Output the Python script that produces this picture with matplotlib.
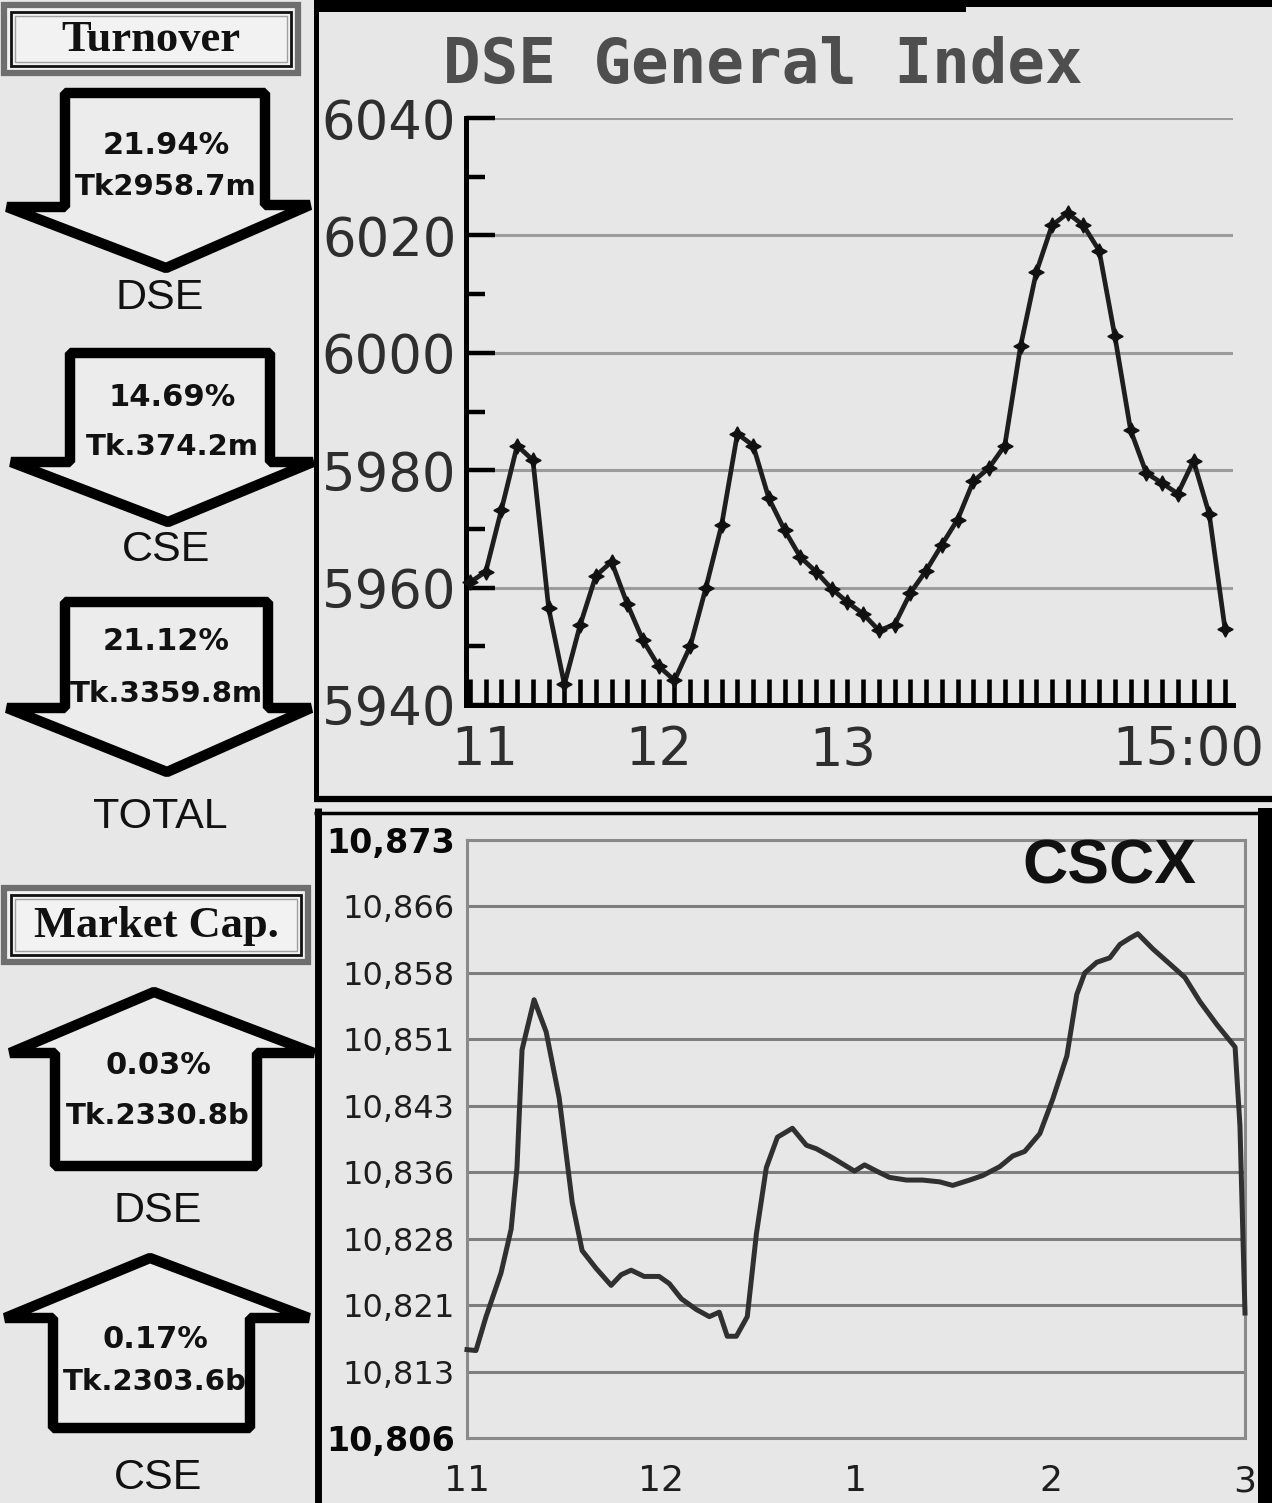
import numpy as np
import matplotlib
matplotlib.use("Agg")
import matplotlib.pyplot as plt
from matplotlib.patches import Polygon, Rectangle
from matplotlib.ticker import FixedLocator
from matplotlib.transforms import ScaledTranslation

W, H = 1272, 1503
BG = '#e7e7e7'

# ---------------- data ----------------
turnover_labels = ["DSE", "CSE", "TOTAL"]
turnover_pct = ["21.94%", "14.69%", "21.12%"]
turnover_amt = ["Tk2958.7m", "Tk.374.2m", "Tk.3359.8m"]

mcap_labels = ["DSE", "CSE"]
mcap_pct = ["0.03%", "0.17%"]
mcap_amt = ["Tk.2330.8b", "Tk.2303.6b"]

# DSE General Index, one reading every 5 minutes from 11:00 to 15:00
dse_minutes = np.arange(0, 241, 5)
dse_values = [5960.9, 5962.7, 5973.3, 5984.2, 5981.7, 5956.5, 5943.5, 5953.6,
              5962.0, 5964.4, 5957.2, 5951.0, 5946.6, 5944.2, 5950.0, 5960.0,
              5970.7, 5986.2, 5984.2, 5975.2, 5969.8, 5965.2, 5962.7, 5959.8,
              5957.5, 5955.5, 5952.7, 5953.7, 5959.1, 5962.9, 5967.3, 5971.6,
              5978.1, 5980.4, 5984.2, 6001.1, 6013.7, 6021.7, 6023.8, 6021.7,
              6017.4, 6002.8, 5986.8, 5979.5, 5977.8, 5976.0, 5981.6, 5972.5,
              5953.0]
dse_tick_pos = [0, 60, 120, 240]
dse_tick_labels = ["11", "12", "13", "15:00"]
dse_yticks = [5940, 5960, 5980, 6000, 6020, 6040]
dse_yminor = [5950, 5970, 5990, 6010, 6030]

# CSCX (hours of the day)
cscx_hours = [11.00, 11.046, 11.098, 11.175, 11.227, 11.257, 11.283, 11.345,
              11.407, 11.474, 11.541, 11.592, 11.664, 11.741, 11.793, 11.844,
              11.911, 11.988, 12.040, 12.102, 12.179, 12.246, 12.297, 12.338,
              12.385, 12.441, 12.488, 12.539, 12.596, 12.673, 12.745, 12.797,
              12.879, 12.992, 13.044, 13.106, 13.172, 13.260, 13.342, 13.430,
              13.497, 13.584, 13.651, 13.739, 13.806, 13.867, 13.945, 14.012,
              14.084, 14.135, 14.176, 14.238, 14.305, 14.357, 14.408, 14.449,
              14.526, 14.614, 14.691, 14.768, 14.856, 14.949, 14.974, 15.000]
cscx_values = [10815.9, 10815.8, 10819.6, 10824.5, 10829.4, 10836.3, 10849.5, 10855.1,
               10851.5, 10844.1, 10832.4, 10827.0, 10825.0, 10823.1, 10824.3, 10824.8,
               10824.1, 10824.1, 10823.3, 10821.6, 10820.4, 10819.6, 10820.1, 10817.4,
               10817.4, 10819.6, 10828.9, 10836.3, 10839.7, 10840.7, 10838.8, 10838.4,
               10837.4, 10835.9, 10836.6, 10835.9, 10835.2, 10834.9, 10834.9, 10834.7,
               10834.3, 10834.9, 10835.4, 10836.4, 10837.6, 10838.1, 10840.1, 10844.0,
               10848.8, 10855.7, 10858.1, 10859.3, 10859.8, 10861.3, 10862.0, 10862.5,
               10860.8, 10859.1, 10857.6, 10854.9, 10852.3, 10849.8, 10841.0, 10820.0]
cscx_ymin, cscx_ymax = 10806, 10873
cscx_ytick_labels = ["10,806", "10,813", "10,821", "10,828", "10,836",
                     "10,843", "10,851", "10,858", "10,866", "10,873"]
cscx_xticks = [11, 12, 13, 14, 15]
cscx_xtick_labels = ["11", "12", "1", "2", "3"]

# ---------------- figure ----------------
fig = plt.figure(figsize=(W / 100, H / 100), dpi=100, facecolor=BG)


def px_axes(l, t, r, b):
    return fig.add_axes([l / W, 1 - b / H, (r - l) / W, (b - t) / H])


ov = px_axes(0, 0, W, H)
ov.set_xlim(0, W)
ov.set_ylim(H, 0)
ov.axis('off')

# panel borders
ov.add_patch(Rectangle((314, 0), 652, 12, fc='black', ec='none'))
ov.add_patch(Rectangle((966, 0), 306, 7, fc='black', ec='none'))
ov.plot([316, 316], [0, 800], color='black', lw=3.6, solid_capstyle='butt')
ov.plot([314, 1272], [799, 799], color='black', lw=4.5, solid_capstyle='butt')
ov.plot([314, 1272], [813, 813], color='black', lw=2.5, solid_capstyle='butt')
ov.plot([318, 318], [808, 1503], color='black', lw=5, solid_capstyle='butt')
ov.add_patch(Rectangle((1258, 808), 14, 695, fc='black', ec='none'))


def title_box(l, t, r, b, text):
    ov.add_patch(Rectangle((l, t), r - l, b - t, fc='#f2f2f2', ec='#6e6e6e', lw=4.5))
    ov.add_patch(Rectangle((l + 7, t + 7), r - l - 14, b - t - 14, fc='none', ec='#111111', lw=2))
    ov.add_patch(Rectangle((l + 11, t + 11), r - l - 22, b - t - 22, fc='none', ec='#a0a0a0', lw=1))
    ov.text((l + r) / 2, (t + b) / 2 + 1, text, ha='center', va='center',
            family='Liberation Serif', weight='bold', size=32, color='#111111')


title_box(4, 5, 298, 73, "Turnover")
title_box(4, 888, 308, 962, "Market Cap.")

ARROW_LW = 7.5
down_arrows = [
    [(65, 93), (265, 93), (265, 205), (310, 205), (166, 268), (7, 207), (65, 207)],
    [(70, 353), (270, 353), (270, 462), (313, 462), (168, 522), (11, 462), (70, 462)],
    [(65, 602), (268, 602), (268, 708), (311, 708), (167, 772), (7, 708), (65, 708)],
]
down_text = [(166, 145, 187, 298), (172, 397, 447, 550), (166, 642, 694, 817)]
for poly, (cx, y1, y2, y3), pct, amt, lab in zip(down_arrows, down_text, turnover_pct,
                                                 turnover_amt, turnover_labels):
    ov.add_patch(Polygon(poly, closed=True, fc='#ececec', ec='black', lw=ARROW_LW,
                         joinstyle='bevel'))
    ov.text(cx, y1, pct, ha='center', va='center', family='DejaVu Sans',
            weight='bold', size=22, color='#111111')
    ov.text(cx, y2, amt, ha='center', va='center', family='DejaVu Sans',
            weight='bold', size=21, color='#111111')
    ov.text(cx - 6, y3, lab, ha='center', va='center', family='Liberation Sans',
            size=31, color='#111111')

up_arrows = [
    [(154, 992), (314, 1053), (257, 1053), (257, 1166), (55, 1166), (55, 1053), (10, 1053)],
    [(150, 1258), (309, 1318), (250, 1318), (250, 1428), (53, 1428), (53, 1318), (5, 1318)],
]
up_text = [(158, 1066, 1116, 1211), (155, 1340, 1382, 1478)]
for poly, (cx, y1, y2, y3), pct, amt, lab in zip(up_arrows, up_text, mcap_pct,
                                                 mcap_amt, mcap_labels):
    ov.add_patch(Polygon(poly, closed=True, fc='#ececec', ec='black', lw=ARROW_LW,
                         joinstyle='bevel'))
    ov.text(cx, y1, pct, ha='center', va='center', family='DejaVu Sans',
            weight='bold', size=22, color='#111111')
    ov.text(cx, y2, amt, ha='center', va='center', family='DejaVu Sans',
            weight='bold', size=21, color='#111111')
    ov.text(158, y3, lab, ha='center', va='center', family='Liberation Sans',
            size=31, color='#111111')

# ---------------- DSE General Index ----------------
ax1 = px_axes(466, 118, 1233, 705)
ax1.set_facecolor('none')
ax1.set_xlim(-4 * 240 / 755, 763 * 240 / 755)
ax1.set_ylim(dse_yticks[0], dse_yticks[-1])
for s in ['top', 'right']:
    ax1.spines[s].set_visible(False)
for s in ['left', 'bottom']:
    ax1.spines[s].set_color('black')
    ax1.spines[s].set_linewidth(3.6)
ax1.set_yticks(dse_yticks)
ax1.set_yticklabels([str(v) for v in dse_yticks])
ax1.yaxis.set_minor_locator(FixedLocator(dse_yminor))
ax1.tick_params(axis='y', which='major', direction='in', length=21, width=3.2,
                color='black', labelsize=38, pad=7, labelcolor='#2e2e2e')
ax1.tick_params(axis='y', which='minor', direction='in', length=14, width=3.2,
                color='black')
ax1.grid(axis='y', which='major', color='#9c9c9c', lw=2.2)
ax1.set_axisbelow(True)

ax1.set_xticks(dse_tick_pos)
ax1.set_xticklabels(dse_tick_labels)
ax1.xaxis.set_minor_locator(FixedLocator(dse_minutes))
ax1.xaxis.remove_overlapping_locs = False
ax1.tick_params(axis='x', which='major', length=0, labelsize=38, pad=14,
                labelcolor='#2e2e2e')
ax1.tick_params(axis='x', which='minor', direction='in', length=19, width=3.3,
                color='black')
x_offsets_in = [0.15, 0.0, -0.05, -0.37]
for lbl, dx in zip(ax1.get_xticklabels(), x_offsets_in):
    lbl.set_transform(lbl.get_transform() + ScaledTranslation(dx, 0, fig.dpi_scale_trans))

ax1.plot(dse_minutes, dse_values, color='#1e1e1e', lw=3.4, marker=(4, 1, 0),
         ms=11, mfc='#111111', mec='#111111', clip_on=False, zorder=3)

fig.text(763 / W, 1 - 66 / H, "DSE General Index", family='DejaVu Sans Mono',
         weight='bold', size=45, color='#4e4e4e', ha='center', va='center')

# ---------------- CSCX ----------------
ax2 = px_axes(467, 840, 1245, 1438)
ax2.set_facecolor('none')
ax2.set_xlim(cscx_xticks[0], cscx_xticks[-1])
ax2.set_ylim(cscx_ymin, cscx_ymax)
for s in ax2.spines.values():
    s.set_color('#8a8a8a')
    s.set_linewidth(2.2)
ax2.set_yticks(np.linspace(cscx_ymin, cscx_ymax, len(cscx_ytick_labels)))
ax2.set_yticklabels(cscx_ytick_labels)
ax2.set_xticks(cscx_xticks)
ax2.set_xticklabels(cscx_xtick_labels)
ax2.tick_params(axis='y', length=0, labelsize=23, pad=9, labelcolor='#1e1e1e')
ax2.tick_params(axis='x', length=0, labelsize=26, pad=19, labelcolor='#1e1e1e')
ylbls = ax2.get_yticklabels()
for i in (0, len(ylbls) - 1):
    ylbls[i].set_fontweight('bold')
    ylbls[i].set_fontsize(24)
    ylbls[i].set_color('#080808')
ax2.grid(axis='y', color='#7e7e7e', lw=2.2)
ax2.set_axisbelow(True)
ax2.plot(cscx_hours, cscx_values, color='#303030', lw=3.6, clip_on=False,
         solid_joinstyle='round', zorder=3)

fig.text(1109 / W, 1 - 867 / H, "CSCX", family='Liberation Sans', weight='bold',
         size=45, color='#111111', ha='center', va='center')

fig.savefig('out.png', dpi=100, facecolor=BG)
